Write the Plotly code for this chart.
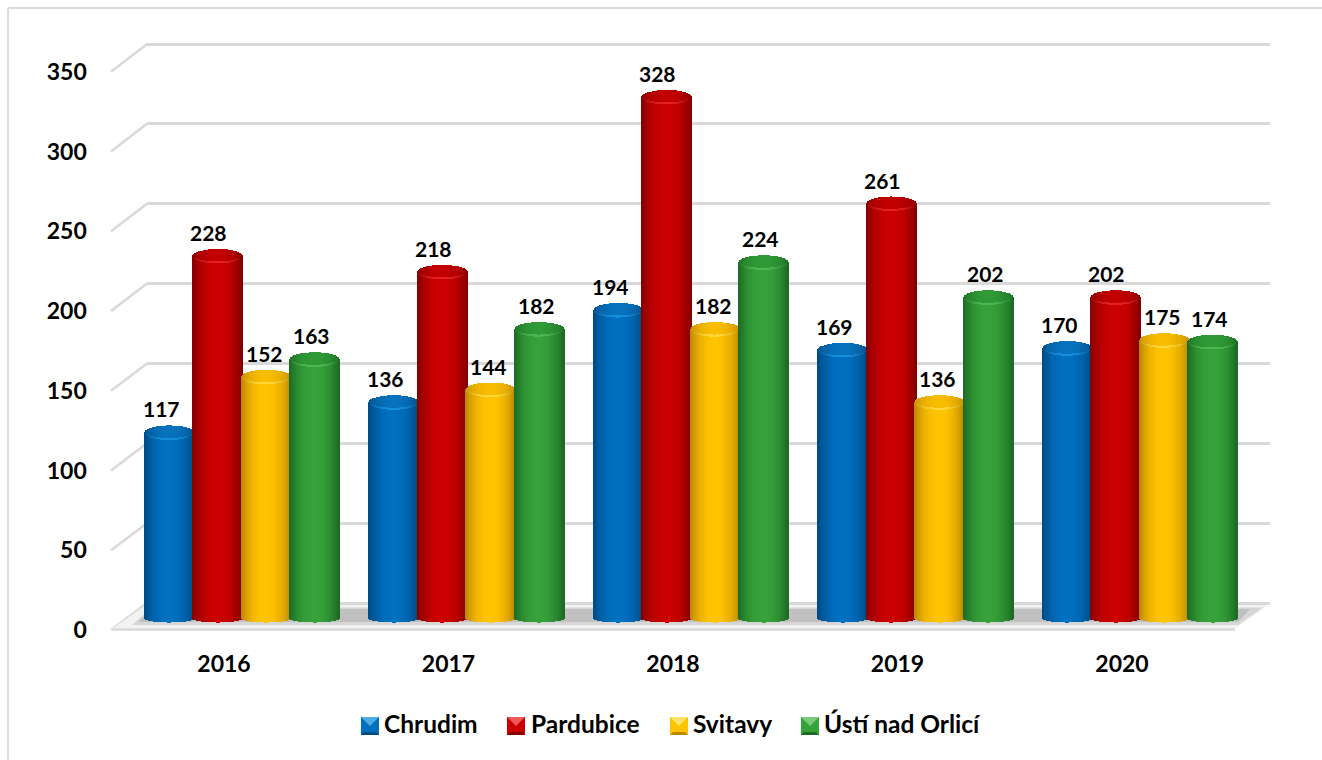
import numpy as np
import plotly.graph_objects as go

W, H = 1322, 760

years = ["2016", "2017", "2018", "2019", "2020"]
series_names = ["Chrudim", "Pardubice", "Svitavy", "Ústí nad Orlicí"]
chrudim = [117, 136, 194, 169, 170]
pardubice = [228, 218, 328, 261, 202]
svitavy = [152, 144, 182, 136, 175]
usti = [163, 182, 224, 202, 174]
series_values = [chrudim, pardubice, svitavy, usti]
body_colors = ["#0070c0", "#cc0000", "#ffc400", "#36a23a"]
edge_colors = ["#004a85", "#860000", "#bd8800", "#1c6a24"]
cap_colors = ["#0672bd", "#c20000", "#f8bc00", "#2f9a36"]
rim_colors = ["#1490dc", "#e82020", "#ffd83a", "#4cba50"]
label_shift = [-8, -9, -2, -3]
y_ticks = [0, 50, 100, 150, 200, 250, 300, 350]
legend_icon_x = [361, 507, 670, 801]
legend_text_x = [384, 531, 693, 824]

FONT = "Lato"
FRAME = "#d9d9d9"


def px(x):
    return x / W


def py(y):
    return 1 - y / H


def mix(a, b, f):
    ca = [int(a[i:i + 2], 16) for i in (1, 3, 5)]
    cb = [int(b[i:i + 2], 16) for i in (1, 3, 5)]
    return "rgb(%d,%d,%d)" % tuple(round(p + (q - p) * f) for p, q in zip(ca, cb))


fig = go.Figure()

K = 1.59           # px per unit
Y0 = 618           # px of value 0
GROUP = 224.5      # px per category
BAR_W = 49
BAR_STEP = 48.4
E_TOP = 7 / K
E_BOT = 4 / K
RIM = 1.6 / K
ts = np.linspace(-1, 1, 49)

for s, vals in enumerate(series_values):
    xs, bases, heights, cols = [], [], [], []
    centre = (s - 1.5) * BAR_STEP
    for i, v in enumerate(vals):
        for t in ts:
            root = np.sqrt(max(0.0, 1 - t * t))
            shade = abs(t) ** 2.2
            x = i + (centre + t * BAR_W / 2) / GROUP
            bottom = -E_BOT * root
            top = v - E_TOP * root
            xs.append(x); bases.append(bottom); heights.append(top - bottom)
            cols.append(mix(body_colors[s], edge_colors[s], shade))
            xs.append(x); bases.append(top); heights.append(2 * E_TOP * root + 0.01)
            cols.append(mix(cap_colors[s], edge_colors[s], 0.8 * shade))
            xs.append(x); bases.append(top); heights.append(RIM * root + 0.01)
            cols.append(mix(rim_colors[s], edge_colors[s], 0.9 * shade))
    fig.add_trace(go.Bar(
        x=xs, y=heights, base=bases, width=1.5 / GROUP,
        marker=dict(color=cols, line=dict(width=0)),
        xaxis="x3", yaxis="y3", showlegend=False, hoverinfo="skip", name=series_names[s],
    ))

fig.add_trace(go.Scatter(x=[years[0]], y=[0], xaxis="x", yaxis="y", mode="markers",
                         marker=dict(opacity=0), showlegend=False, hoverinfo="skip"))
fig.add_trace(go.Scatter(x=years, y=[0] * 5, xaxis="x2", yaxis="y2", mode="markers",
                         marker=dict(opacity=0), showlegend=False, hoverinfo="skip"))

axis_off = dict(showgrid=False, zeroline=False, showline=False, showticklabels=False, ticks="", automargin=False)
tickfont = dict(family=FONT, size=23, color="#000000", weight="bold")
BACK_K = 559 / 350

layout = dict(
    width=W, height=H, margin=dict(l=0, r=0, t=0, b=0),
    paper_bgcolor="white", plot_bgcolor="rgba(0,0,0,0)",
    barmode="overlay", bargap=0, showlegend=False,
    xaxis=dict(domain=[px(147), px(1270)], type="category", categoryorder="array",
               categoryarray=years, range=[-0.5, 4.5], anchor="y", **axis_off),
    yaxis=dict(domain=[py(603 + 5 * BACK_K), py(44 - 5 * BACK_K)], range=[-5, 355], anchor="x", tickvals=y_ticks,
               showgrid=True, gridcolor=FRAME, gridwidth=2.5, zeroline=False,
               showline=False, showticklabels=False, ticks="", automargin=False),
    xaxis2=dict(domain=[px(111.75), px(1234.25)], type="category", categoryorder="array",
                categoryarray=years, range=[-0.5, 4.5], anchor="y2", tickvals=years,
                showgrid=False, zeroline=False, showline=False, ticks="",
                tickfont=tickfont, ticklabelstandoff=18, automargin=False),
    yaxis2=dict(domain=[py(630), py(72)], range=[0, 350], anchor="x2", tickvals=y_ticks,
                showgrid=False, zeroline=False, showline=False, ticks="",
                tickfont=tickfont, ticklabelstandoff=24, automargin=False),
    xaxis3=dict(domain=[px(129.75), px(129.75 + 5 * GROUP)], range=[-0.5, 4.5], anchor="y3", **axis_off),
    yaxis3=dict(domain=[py(Y0 + 20 * K), py(Y0 - 350 * K)], range=[-20, 350], anchor="x3", **axis_off),
)

shapes = []


def poly(points, fill, layer="below"):
    path = "M " + " L ".join(f"{px(a):.5f},{py(b):.5f}" for a, b in points) + " Z"
    shapes.append(dict(type="path", xref="paper", yref="paper", path=path, fillcolor=fill,
                       line=dict(width=0), layer=layer))


def seg(x0, y0, x1, y1, color=FRAME, w=2.5):
    shapes.append(dict(type="line", xref="paper", yref="paper", x0=px(x0), y0=py(y0), x1=px(x1), y1=py(y1),
                       line=dict(color=color, width=w), layer="below"))


seg(8, 8, W, 8, "#dcdcdc", 2)
seg(8, 8, 8, H, "#dcdcdc", 2)

for v in y_ticks:
    seg(111, 630 - 1.595 * v, 147, 603 - BACK_K * v)

poly([(112, 629), (147, 604), (1270, 604), (1235, 629)], "#f2f2f2")
poly([(132, 625), (152, 607.5), (1263, 607.5), (1238, 625)], "#d6d6d6")
poly([(138, 622), (152, 609), (1250, 609), (1238, 622)], "#c0c0c0")
seg(112, 629.5, 1235, 629.5)

for s, x0 in enumerate(legend_icon_x):
    y0, y1, x1 = 717, 735, x0 + 18
    poly([(x0, y0), (x1, y0), (x1, y1), (x0, y1)], body_colors[s], layer="above")
    poly([(x0, y0), (x1, y0), (x0 + 9, y0 + 9)], mix(rim_colors[s], "#ffffff", 0.25), layer="above")
    poly([(x0, y1), (x1, y1), (x1 - 3, y1 - 3), (x0 + 3, y1 - 3)], edge_colors[s], layer="above")

layout["shapes"] = shapes

ann = []
for s, vals in enumerate(series_values):
    centre = (s - 1.5) * BAR_STEP / GROUP
    for i, v in enumerate(vals):
        ann.append(dict(x=i + centre, y=v, xref="x3", yref="y3", text=str(v), showarrow=False,
                        xshift=label_shift[s], yshift=23, xanchor="center", yanchor="middle",
                        font=dict(family=FONT, size=21, color="#000000", weight="bold")))
for s, x0 in enumerate(legend_text_x):
    ann.append(dict(x=px(x0), y=py(723.5), xref="paper", yref="paper", text=series_names[s], showarrow=False,
                    xanchor="left", yanchor="middle", xshift=-2,
                    font=dict(family=FONT, size=24.5, color="#000000", weight="bold")))
layout["annotations"] = ann

fig.update_layout(**layout)
fig.write_html("out.html", config=dict(displayModeBar=False),
               post_script="document.body.style.margin='0';document.documentElement.style.overflow='hidden';")
